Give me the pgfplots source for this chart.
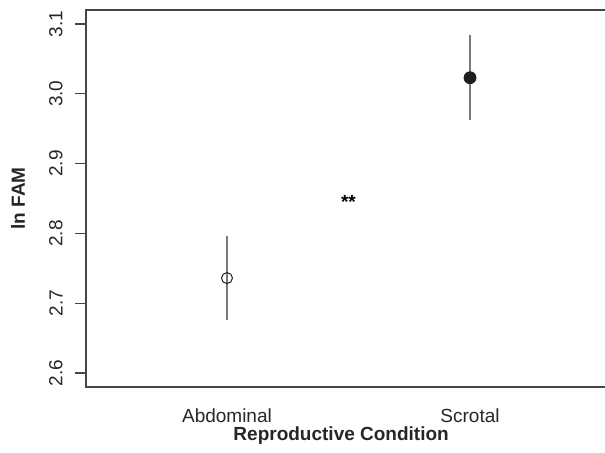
\documentclass[border=0pt]{standalone}
\usepackage{pgfplots}
\pgfplotsset{compat=1.18}
\usepackage{fontspec}
\setmainfont{Liberation Sans}
\definecolor{axgray}{RGB}{70,70,70}
\definecolor{bargray}{RGB}{120,120,120}
\definecolor{pt}{RGB}{30,30,30}
\begin{document}
\begin{tikzpicture}
\begin{axis}[
  name=ax,
  scale only axis,
  width=262.5pt, height=188.5pt,
  xmin=0.42, xmax=2.58,
  ymin=2.58, ymax=3.12,
  axis line style={axgray, line width=0.6pt},
  xtick={1,2}, xticklabels={Abdominal, Scrotal},
  ytick={2.6,2.7,2.8,2.9,3.0,3.1},
  ytick pos=left, xtick pos=bottom,
  tick align=outside,
  x tick style={draw=none},
  y tick style={axgray, line width=0.6pt},
  major tick length=5.5pt,
  /pgf/number format/assume math mode=true,
  /pgf/number format/.cd, fixed, fixed zerofill, precision=1, /pgfplots/.cd,
  tick label style={font=\fontsize{9.5}{11}\selectfont, text=black!85},
  yticklabel style={rotate=90, anchor=south, inner sep=0pt},
  yticklabel shift=6pt,
  xticklabel style={anchor=base, inner sep=0pt, yshift=-12.5pt},
  xlabel={Reproductive Condition},
  ylabel={ln FAM},
  label style={font=\fontsize{9.5}{11}\selectfont\bfseries, text=black!85},
  xlabel style={at={(axis description cs:0.486,0)}, anchor=base, inner sep=0pt, yshift=-27pt},
  ylabel style={at={(axis description cs:-0.1295,0.5)}, anchor=center, inner sep=0pt},
  clip=false,
]
\addplot[only marks, mark=o, mark size=2.75pt, mark options={pt, line width=0.5pt, fill=none},
  error bars/.cd, y dir=both, y explicit, error bar style={bargray, line width=0.7pt}, error mark=none]
  coordinates {(1,2.736) +- (0,0.060)};
\addplot[only marks, mark=*, mark size=3pt, mark options={pt, fill=pt},
  error bars/.cd, y dir=both, y explicit, error bar style={bargray, line width=0.7pt}, error mark=none]
  coordinates {(2,3.023) +- (0,0.061)};
\node[anchor=base, font=\fontsize{9.5}{11}\selectfont\bfseries, inner sep=0pt] at (axis cs:1.5,2.836) {**};
\end{axis}
\pgfresetboundingbox
\path ([shift={(-43pt,-33pt)}]ax.south west) rectangle ([shift={(-3pt,5pt)}]ax.north east);
\end{tikzpicture}
\end{document}
